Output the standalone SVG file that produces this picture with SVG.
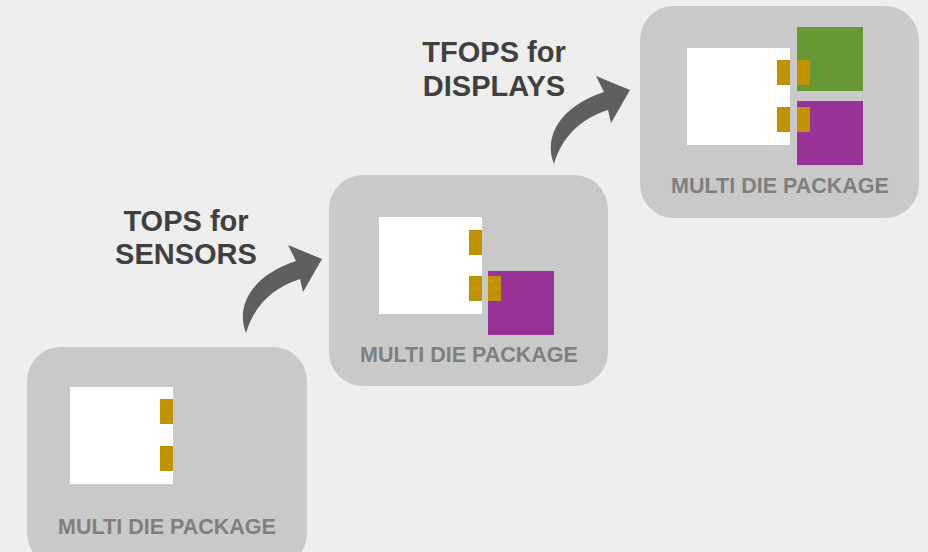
<svg xmlns="http://www.w3.org/2000/svg" width="928" height="552" viewBox="0 0 928 552">
  <defs>
    <style>
      .pkg { fill: #c9c9c9; }
      .die { fill: #ffffff; }
      .pad { fill: #c09200; }
      .green { fill: #669933; }
      .purple { fill: #993399; }
      .pkg-label { font-family: "Liberation Sans", Arial, sans-serif; font-weight: bold; font-size: 21.5px; fill: #7f7f7f; text-anchor: middle; }
      .step-label { font-family: "Liberation Sans", Arial, sans-serif; font-weight: bold; font-size: 29px; fill: #404040; text-anchor: middle; }
      .arrow { fill: #5f5f5f; }
    </style>
    <!-- curved step arrow, tail at lower left, head at upper right -->
    <path id="step-arrow" d="M 246,333 C 235,305 253,275 296,261 L 288,245 L 322,259 L 303,292 L 300,279 C 272,288 254,306 246,333 Z"/>
  </defs>

  <rect x="0" y="0" width="928" height="552" fill="#eeeeee"/>

  <!-- package 1: single die -->
  <g id="package-1">
    <rect class="pkg" x="27" y="347" width="280" height="220" rx="34"/>
    <rect class="die" x="70" y="387" width="103" height="97"/>
    <rect class="pad" x="160" y="399" width="13" height="25"/>
    <rect class="pad" x="160" y="446" width="13" height="25"/>
    <text class="pkg-label" x="167" y="534">MULTI DIE PACKAGE</text>
  </g>

  <!-- package 2: die + sensor -->
  <g id="package-2">
    <rect class="pkg" x="329" y="175" width="279" height="211" rx="34"/>
    <rect class="die" x="379" y="217" width="103" height="97"/>
    <rect class="pad" x="469" y="230" width="13" height="25"/>
    <rect class="pad" x="469" y="276" width="13" height="25"/>
    <rect class="purple" x="488" y="271" width="66" height="64"/>
    <rect class="pad" x="488" y="276" width="13" height="25"/>
    <text class="pkg-label" x="469" y="362">MULTI DIE PACKAGE</text>
  </g>

  <!-- package 3: die + display + sensor -->
  <g id="package-3">
    <rect class="pkg" x="640" y="6" width="279" height="212" rx="34"/>
    <rect class="die" x="687" y="48" width="103" height="97"/>
    <rect class="pad" x="777" y="60" width="13" height="25"/>
    <rect class="pad" x="777" y="107" width="13" height="25"/>
    <rect class="green" x="797" y="27" width="66" height="64"/>
    <rect class="purple" x="797" y="101" width="66" height="64"/>
    <rect class="pad" x="797" y="60" width="13" height="25"/>
    <rect class="pad" x="797" y="107" width="13" height="25"/>
    <text class="pkg-label" x="780" y="193">MULTI DIE PACKAGE</text>
  </g>

  <!-- step labels -->
  <g id="label-sensors">
    <text class="step-label" x="186" y="231">TOPS for</text>
    <text class="step-label" x="186" y="264">SENSORS</text>
  </g>
  <g id="label-displays">
    <text class="step-label" x="494" y="62">TFOPS for</text>
    <text class="step-label" x="494" y="96">DISPLAYS</text>
  </g>

  <!-- connectors -->
  <g id="connectors">
    <use href="#step-arrow" class="arrow"/>
    <use href="#step-arrow" class="arrow" transform="translate(308,-169)"/>
  </g>
</svg>
